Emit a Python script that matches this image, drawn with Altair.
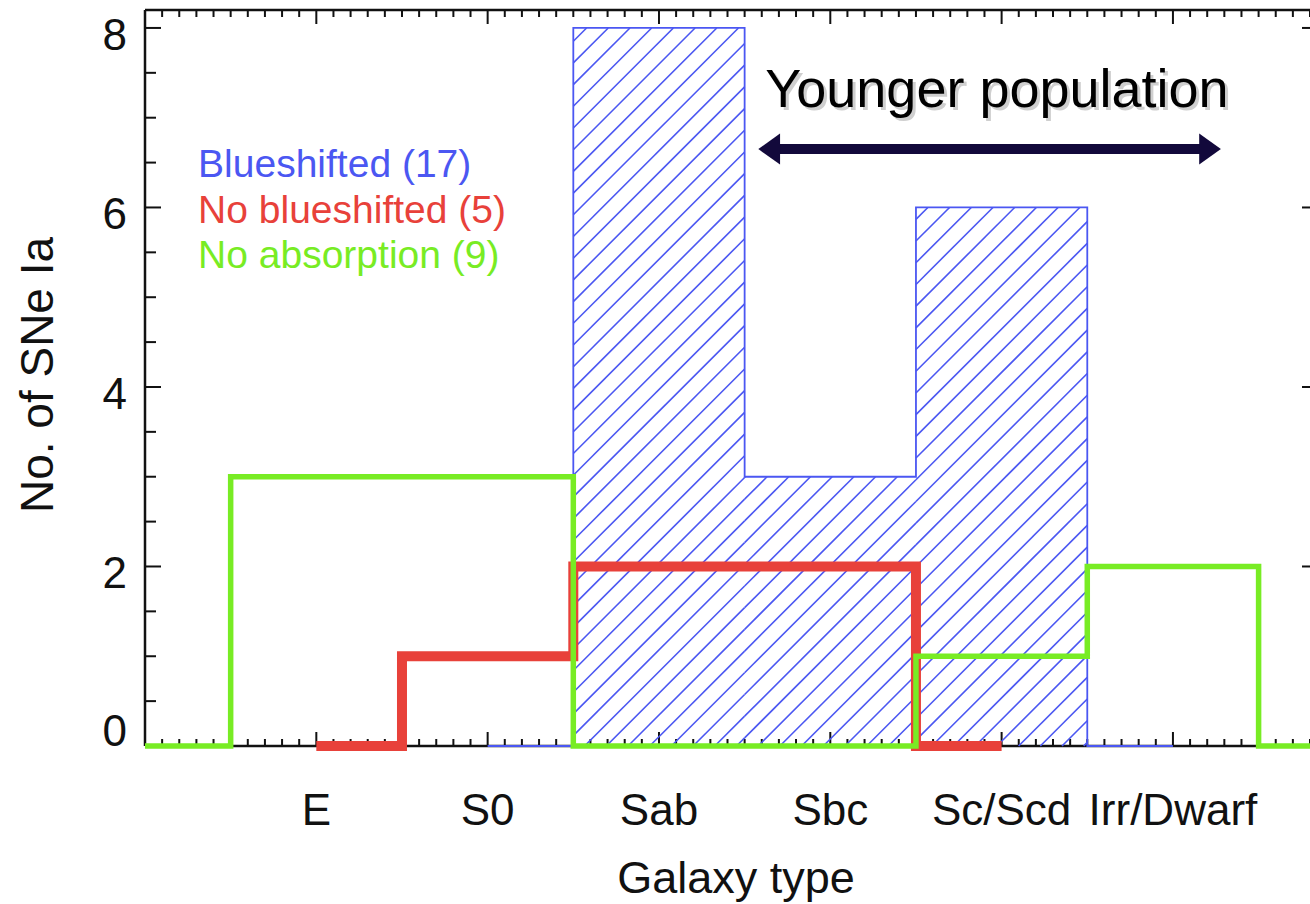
import math

import altair as alt
import pandas as pd

# ---- data -------------------------------------------------------------
# Host-galaxy morphological types, one histogram bin per type
galaxy_types = ["E", "S0", "Sab", "Sbc", "Sc/Scd", "Irr/Dwarf"]
type_pos = [1, 2, 3, 4, 5, 6]

# Number of SNe Ia per bin (bin centre, count); end points carry zero counts
blue_x = [2, 3, 4, 5, 6]
blue_n = [0, 8, 3, 6, 0]
red_x = [1, 2, 3, 4, 5]
red_n = [0, 1, 2, 2, 0]
green_x = [0, 1, 2, 3, 4, 5, 6, 7]
green_n = [0, 3, 3, 0, 0, 1, 2, 0]

legend_labels = ["Blueshifted (17)", "No blueshifted (5)", "No absorption (9)"]
y_tick_values = [0, 2, 4, 6, 8]

# ---- styling / geometry ----------------------------------------------
BLUE = "#4b57f2"
RED = "#e8413a"
GREEN = "#78ec24"
NAVY = "#12093b"
INK = "#111111"
FONT = "Liberation Sans"

W, H = 1165, 736          # plot area
XMAX, YMAX = 6.8, 8.2     # axis ranges (both start at 0)
KX, KY = W / XMAX, H / YMAX

xs = alt.Scale(domain=[0, XMAX], nice=False, zero=False)
ys = alt.Scale(domain=[0, YMAX], nice=False, zero=False)
one = pd.DataFrame({"k": [0]})


def step_frame(xv, nv):
    """Histogram outline drawn as steps centred on each bin (psym=10 style)."""
    pts = []
    last = len(xv) - 1
    for i, (x, n) in enumerate(zip(xv, nv)):
        left = x if i == 0 else x - 0.5
        right = x if i == last else x + 0.5
        pts.append((max(left, 0), n))
        pts.append((min(right, XMAX), n))
    return pd.DataFrame({"x": [p[0] for p in pts],
                         "y": [p[1] for p in pts],
                         "i": list(range(len(pts)))})


def hatch_frame(xv, nv, spacing=21.7, phase=16.1):
    """45-degree hatch segments filling each non-empty bin."""
    segs = []
    for x, n in zip(xv, nv):
        if n <= 0:
            continue
        a, b, h = (x - 0.5) * KX, (x + 0.5) * KX, n * KY
        k0 = math.ceil((-b - phase) / spacing)
        k1 = math.floor((h - a - phase) / spacing)
        for k in range(k0, k1 + 1):
            c = phase + k * spacing
            s, e = max(a, -c), min(b, h - c)
            if e - s > 0.5:
                segs.append({"x": s / KX, "y": (s + c) / KY,
                             "x2": e / KX, "y2": (e + c) / KY})
    return pd.DataFrame(segs)


def step_line(df, color, width):
    return alt.Chart(df).mark_line(
        color=color, strokeWidth=width, strokeJoin="miter", strokeCap="butt"
    ).encode(
        x=alt.X("x:Q", scale=xs, axis=None),
        y=alt.Y("y:Q", scale=ys, axis=None),
        order=alt.Order("i:Q"),
    )


# ---- frame and ticks --------------------------------------------------
frame_top = alt.Chart(one).mark_rule(color=INK, strokeWidth=2.5).encode(
    x=alt.value(0), x2=alt.value(W), y=alt.value(0))
frame_bottom = alt.Chart(one).mark_rule(color=INK, strokeWidth=2.5).encode(
    x=alt.value(0), x2=alt.value(W), y=alt.value(H))
frame_left = alt.Chart(one).mark_rule(color=INK, strokeWidth=2.5).encode(
    x=alt.value(0), y=alt.value(0), y2=alt.value(H))

x_minor = pd.DataFrame({"v": [round(k * 0.1, 1) for k in range(1, 69) if k % 10]})
x_major = pd.DataFrame({"v": list(range(0, 7))})
y_minor = pd.DataFrame({"v": [k * 0.5 for k in range(1, 17) if k % 4]})
y_major = pd.DataFrame({"v": y_tick_values})


def xticks(df, top_len, bottom_len):
    enc_x = alt.X("v:Q", scale=xs, axis=None)
    top = alt.Chart(df).mark_rule(color=INK, strokeWidth=2).encode(
        x=enc_x, y=alt.value(0), y2=alt.value(top_len))
    bot = alt.Chart(df).mark_rule(color=INK, strokeWidth=2).encode(
        x=enc_x, y=alt.value(H), y2=alt.value(H - bottom_len))
    return [top, bot]


def yticks(df, left_len, right_len=None):
    enc_y = alt.Y("v:Q", scale=ys, axis=None)
    out = [alt.Chart(df).mark_rule(color=INK, strokeWidth=2).encode(
        y=enc_y, x=alt.value(0), x2=alt.value(left_len))]
    if right_len:
        out.append(alt.Chart(df).mark_rule(color=INK, strokeWidth=2).encode(
            y=enc_y, x=alt.value(W - right_len), x2=alt.value(W)))
    return out


tick_layers = (xticks(x_minor, 7, 7) + xticks(x_major, 14, 14)
               + yticks(y_minor, 11) + yticks(y_major, 16, 8))

# ---- tick labels and titles --------------------------------------------
x_labels = alt.Chart(pd.DataFrame({"v": type_pos, "t": galaxy_types})).mark_text(
    font=FONT, fontSize=44, color=INK, align="center", baseline="alphabetic"
).encode(x=alt.X("v:Q", scale=xs, axis=None), y=alt.value(H + 79), text="t:N")

y_lab_df = pd.DataFrame({"v": y_tick_values, "t": [str(v) for v in y_tick_values]})
y_labels_upper = alt.Chart(y_lab_df).transform_filter("datum.v > 0").mark_text(
    font=FONT, fontSize=44, color=INK, align="right", baseline="alphabetic", dy=22
).encode(y=alt.Y("v:Q", scale=ys, axis=None), x=alt.value(-18), text="t:N")
y_labels_zero = alt.Chart(y_lab_df).transform_filter("datum.v == 0").mark_text(
    font=FONT, fontSize=44, color=INK, align="right", baseline="alphabetic", dy=0
).encode(y=alt.Y("v:Q", scale=ys, axis=None), x=alt.value(-18), text="t:N")

x_title = alt.Chart(pd.DataFrame({"t": ["Galaxy type"]})).mark_text(
    font=FONT, fontSize=45, color=INK, align="center", baseline="alphabetic"
).encode(x=alt.value(591), y=alt.value(H + 147), text="t:N")

y_title = alt.Chart(pd.DataFrame({"t": ["No. of SNe Ia"]})).mark_text(
    font=FONT, fontSize=46, color=INK, align="center", baseline="alphabetic", angle=270
).encode(x=alt.value(-92), y=alt.value(365), text="t:N")

# ---- histogram series -------------------------------------------------
hatch = alt.Chart(hatch_frame(blue_x, blue_n)).mark_rule(
    color=BLUE, strokeWidth=1.6
).encode(
    x=alt.X("x:Q", scale=xs, axis=None), y=alt.Y("y:Q", scale=ys, axis=None),
    x2="x2:Q", y2="y2:Q",
)
blue_line = step_line(step_frame(blue_x, blue_n), BLUE, 1.8)
red_line = step_line(step_frame(red_x, red_n), RED, 10)
green_line = step_line(step_frame(green_x, green_n), GREEN, 5.5)

# ---- legend text --------------------------------------------------------
legend_df = pd.DataFrame({
    "t": legend_labels,
    "x": [0.31, 0.31, 0.31],
    "y": [6.34, 5.83, 5.33],
    "c": [BLUE, RED, GREEN],
})
legend = alt.Chart(legend_df).mark_text(
    font=FONT, fontSize=39, align="left", baseline="alphabetic"
).encode(
    x=alt.X("x:Q", scale=xs, axis=None), y=alt.Y("y:Q", scale=ys, axis=None),
    text="t:N", color=alt.Color("c:N", scale=None),
)

# ---- "Younger population" annotation ------------------------------------
note_df = pd.DataFrame({"t": ["Younger population"], "x": [3.62], "y": [7.12]})
note_shadow = alt.Chart(note_df).mark_text(
    font=FONT, fontSize=54, align="left", baseline="alphabetic",
    color="#777777", opacity=0.35, dx=3, dy=3
).encode(x=alt.X("x:Q", scale=xs, axis=None), y=alt.Y("y:Q", scale=ys, axis=None), text="t:N")
note = alt.Chart(note_df).mark_text(
    font=FONT, fontSize=54, align="left", baseline="alphabetic", color="black"
).encode(x=alt.X("x:Q", scale=xs, axis=None), y=alt.Y("y:Q", scale=ys, axis=None), text="t:N")

arrow_x = [3.58, 6.28]
arrow_y = 6.65
shaft = alt.Chart(pd.DataFrame({"x": [arrow_x[0] + 0.08], "x2": [arrow_x[1] - 0.08], "y": [arrow_y]})).mark_rule(
    color=NAVY, strokeWidth=10
).encode(x=alt.X("x:Q", scale=xs, axis=None), x2="x2:Q", y=alt.Y("y:Q", scale=ys, axis=None))
head_left = alt.Chart(pd.DataFrame({"x": [arrow_x[0]], "y": [arrow_y]})).mark_point(
    shape="M0,0L1.4,-1L1.4,1Z", size=961, filled=True, color=NAVY, opacity=1
).encode(x=alt.X("x:Q", scale=xs, axis=None), y=alt.Y("y:Q", scale=ys, axis=None))
head_right = alt.Chart(pd.DataFrame({"x": [arrow_x[1]], "y": [arrow_y]})).mark_point(
    shape="M0,0L-1.4,-1L-1.4,1Z", size=961, filled=True, color=NAVY, opacity=1
).encode(x=alt.X("x:Q", scale=xs, axis=None), y=alt.Y("y:Q", scale=ys, axis=None))

chart = alt.layer(
    frame_top, frame_bottom, frame_left, *tick_layers,
    hatch, blue_line, red_line, green_line,
    x_labels, y_labels_upper, y_labels_zero, x_title, y_title,
    legend, note_shadow, note, shaft, head_left, head_right,
).properties(
    width=W, height=H,
    autosize=alt.AutoSizeParams(type="none"),
    padding={"left": 145, "top": 10, "right": 0, "bottom": 158},
    background="white",
).configure_view(stroke=None)

chart.save("out.html", embed_options={"renderer": "svg", "actions": False})
